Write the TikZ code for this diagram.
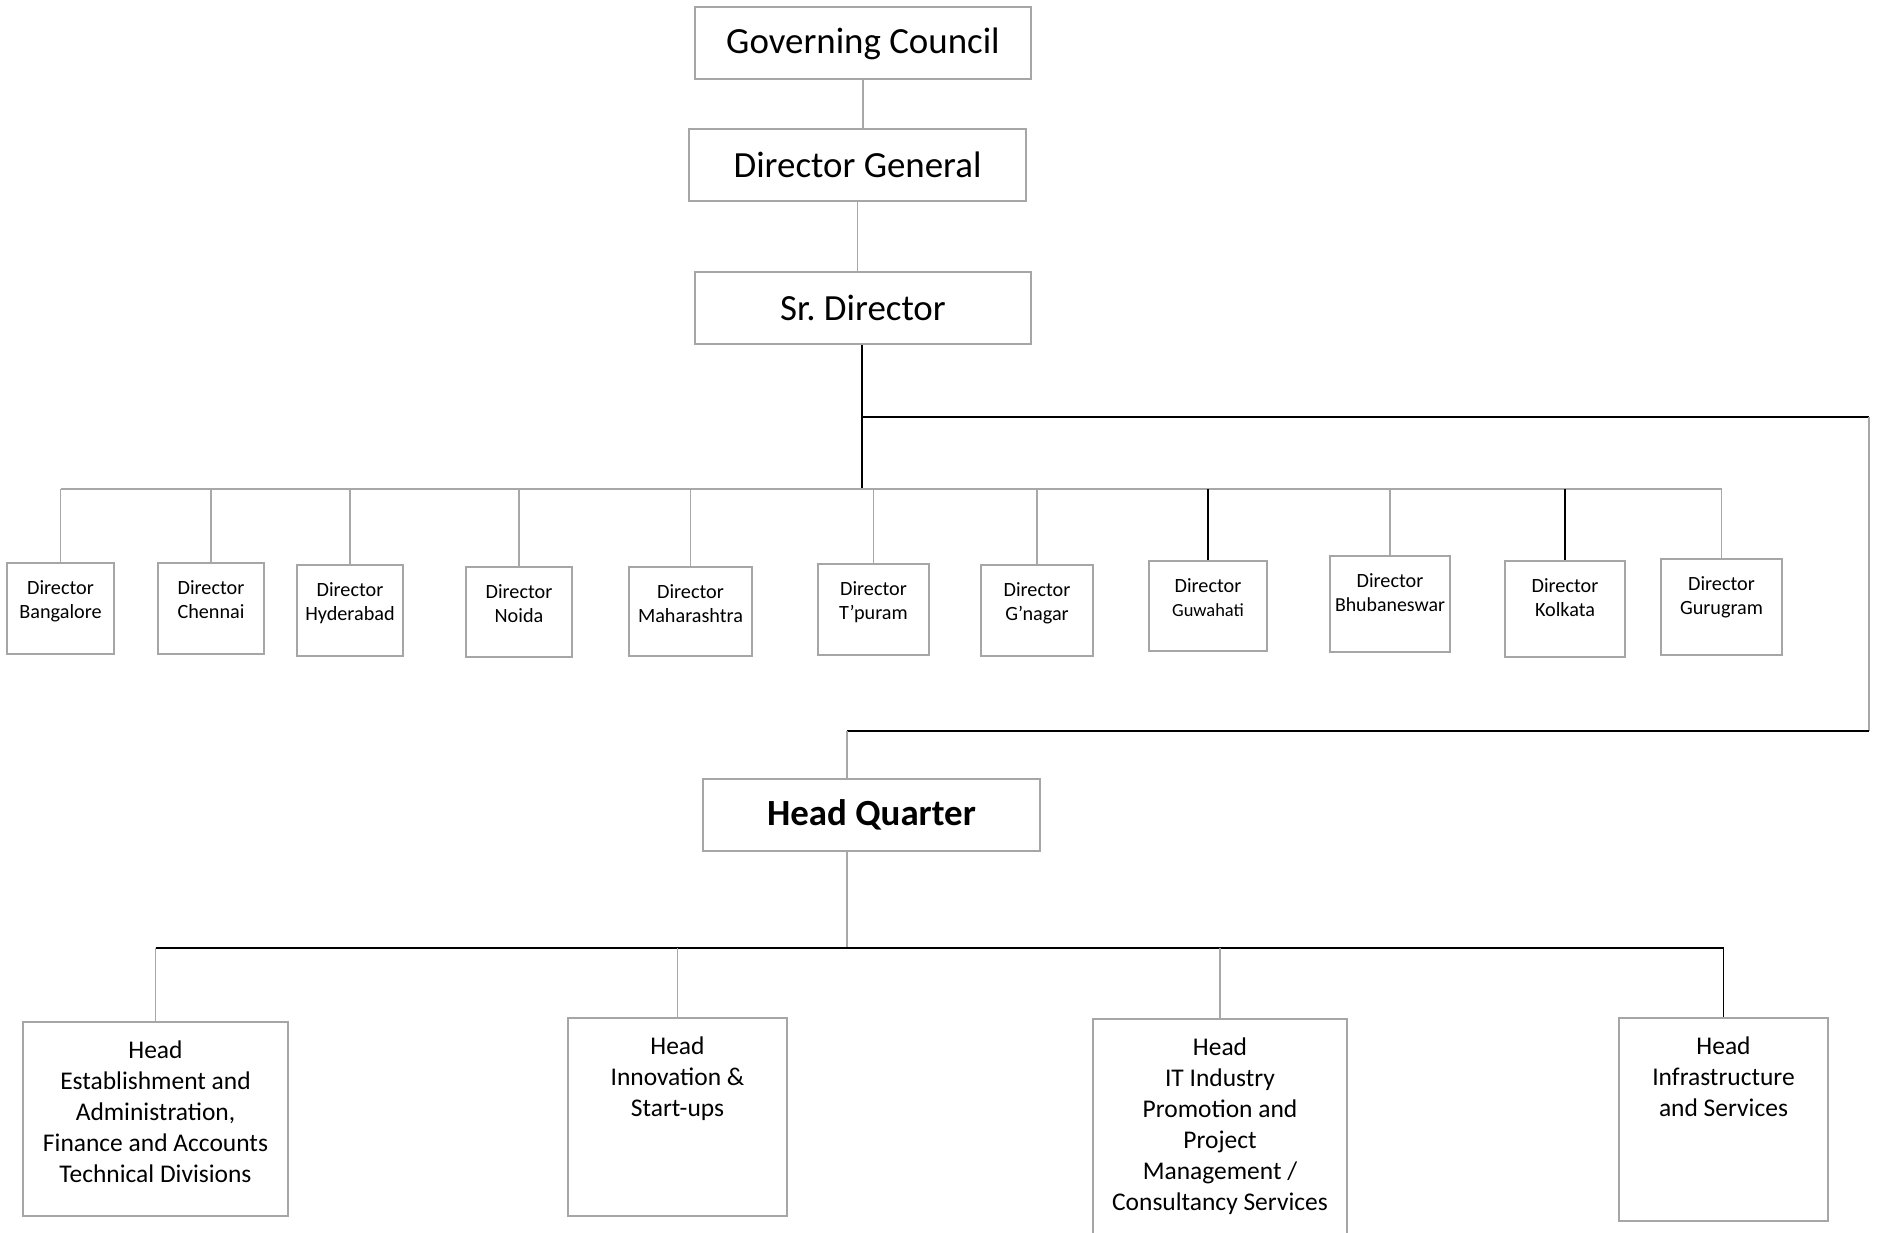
\documentclass[tikz,border=0pt]{standalone}
\usepackage{fontspec}
\setmainfont{Carlito}
\usepackage{xcolor}
\usetikzlibrary{positioning}

\definecolor{boxgray}{HTML}{A6A6A6}
\definecolor{linegray}{HTML}{A8A8A8}

\begin{document}
\begin{tikzpicture}[x=0.2mm,y=-0.2mm,
    box/.style={rectangle,draw=boxgray,line width=0.6pt,inner sep=0pt},
    topbox/.style={box,minimum width=67.2mm,minimum height=14.4mm,font=\fontsize{21}{24}\selectfont},
    dirtext/.style={align=center,inner sep=0pt,font=\fontsize{11.5}{13.6}\selectfont},
    headtext/.style={align=center,inner sep=0pt,font=\fontsize{14.5}{17.6}\selectfont},
    link/.style={draw=linegray,line width=0.6pt},
    blink/.style={draw=black,line width=0.7pt},
    trunk/.style={draw=black,line width=1.6pt}]

            \useasboundingbox (0,0) rectangle (1878,1232);
            \clip (0,0) rectangle (1878,1232);

            \node (gc) at (863,43) [topbox,text depth=0.5ex] {Governing Council};
            \node (dg) at (857.5,165) [topbox,minimum width=67.4mm] {Director General};
            \node (sd) at (863,308) [topbox] {Sr.\ Director};
            \node (hq) at (871.5,815) [topbox,minimum width=67.4mm,font=\fontsize{21}{24}\selectfont\bfseries] {Head Quarter};

            \node (d1) at (60.5,608.5) [box,minimum width=21.4mm,minimum height=18.2mm] {};
            \node (d2) at (211,608.5) [box,minimum width=21.2mm,minimum height=18.2mm] {};
            \node (d3) at (350,610.5) [box,minimum width=21.2mm,minimum height=18.2mm] {};
            \node (d4) at (519,612) [box,minimum width=21.2mm,minimum height=18mm] {};
            \node (d5) at (690.5,611.5) [box,minimum width=24.6mm,minimum height=17.8mm] {};
            \node (d6) at (873.5,609.5) [box,minimum width=22.2mm,minimum height=18.2mm] {};
            \node (d7) at (1037,610.5) [box,minimum width=22.4mm,minimum height=18.2mm] {};
            \node (d8) at (1208,606) [box,minimum width=23.6mm,minimum height=18mm] {};
            \node (d9) at (1390,604) [box,minimum width=24mm,minimum height=19.2mm] {};
            \node (d10) at (1565,609) [box,minimum width=24mm,minimum height=19.2mm] {};
            \node (d11) at (1721.5,607) [box,minimum width=24.2mm,minimum height=19.2mm] {};

            \node (d1t) [dirtext,below=3.5mm of d1.north] {Director\\Bangalore};
            \node (d2t) [dirtext,below=3.5mm of d2.north] {Director\\Chennai};
            \node (d3t) [dirtext,below=3.5mm of d3.north] {Director\\Hyderabad};
            \node (d4t) [dirtext,below=3.5mm of d4.north] {Director\\Noida};
            \node (d5t) [dirtext,below=3.5mm of d5.north] {Director\\Maharashtra};
            \node (d6t) [dirtext,below=3.5mm of d6.north] {Director\\T'puram};
            \node (d7t) [dirtext,below=3.5mm of d7.north] {Director\\G'nagar};
            \node (d8t) [dirtext,below=3.5mm of d8.north] {Director\\{\fontsize{10.5}{12}\selectfont Guwahati}};
            \node (d9t) [dirtext,below=3.5mm of d9.north] {Director\\{\fontsize{11.3}{13}\selectfont Bhubaneswar}};
            \node (d10t) [dirtext,below=3.5mm of d10.north] {Director\\Kolkata};
            \node (d11t) [dirtext,below=3.5mm of d11.north] {Director\\Gurugram};

            \node (h1) at (155.5,1119) [box,minimum width=53mm,minimum height=38.8mm] {};
            \node (h2) at (677.5,1117) [box,minimum width=43.8mm,minimum height=39.6mm] {};
            \node (h3) at (1220,1129.5) [box,minimum width=50.8mm,minimum height=44.2mm] {};
            \node (h4) at (1723.5,1119.5) [box,minimum width=41.8mm,minimum height=40.6mm] {};

            \node (h1t) [headtext,below=3.8mm of h1.north] {Head\\Establishment and\\Administration,\\Finance and Accounts\\Technical Divisions};
            \node (h2t) [headtext,below=3.8mm of h2.north] {Head\\Innovation \&\\Start-ups};
            \node (h3t) [headtext,below=3.8mm of h3.north] {Head\\IT Industry\\Promotion and\\Project\\Management /\\Consultancy Services};
            \node (h4t) [headtext,below=3.8mm of h4.north] {Head\\Infrastructure\\and Services};

            \coordinate (dbus) at (862,489);
            \coordinate (split) at (862,417);
            \coordinate (ne) at (1869,417);
            \coordinate (se) at (1869,731);
            \coordinate (hqin) at (847,731);
            \coordinate (hbus) at (847,948);

            % top chain
            \draw[link] (gc.south) -- (gc.south |- dg.north)  (dg.south) -- (dg.south |- sd.north);
            \draw[trunk] (dbus |- sd.south) -- (dbus);
            \draw[trunk] (split) -- (ne);
            \draw[link] (ne) -- (se);
            \draw[black,line width=1.1pt] (se) -- (hqin);
            \draw[link] (hqin) -- (hqin |- hq.north);

            % directors
            \draw[link] (dbus -| d1.north) -- (dbus -| d11.north);
            \draw[link] (dbus -| d1.north) -- (d1.north)  (dbus -| d2.north) -- (d2.north)  (dbus -| d3.north) -- (d3.north)
            (dbus -| d4.north) -- (d4.north)  (dbus -| d5.north) -- (d5.north)  (dbus -| d6.north) -- (d6.north)
            (dbus -| d7.north) -- (d7.north)  (dbus -| d9.north) -- (d9.north)  (dbus -| d11.north) -- (d11.north);
            \draw[blink] (dbus -| d8.north) -- (d8.north)  (dbus -| d10.north) -- (d10.north);

            % heads
            \draw[link] (hbus |- hq.south) -- (hbus);
            \draw[blink] (hbus -| h1.north) -- (hbus -| h4.north);
            \draw[link] (hbus -| h1.north) -- (h1.north)  (hbus -| h2.north) -- (h2.north)  (hbus -| h3.north) -- (h3.north);
            \draw[blink] (hbus -| h4.north) -- (h4.north);

        \end{tikzpicture}
\end{document}
